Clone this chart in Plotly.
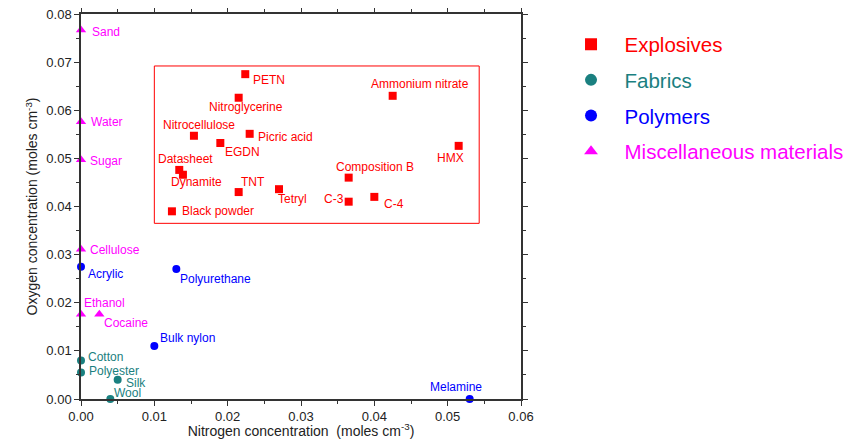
import plotly.graph_objects as go

# ---- data ----
exp_names = ["PETN", "Nitroglycerine", "Nitrocellulose", "Picric acid", "EGDN", "Datasheet",
             "Dynamite", "TNT", "Tetryl", "Black powder", "Ammonium nitrate", "HMX",
             "Composition B", "C-3", "C-4"]
exp_n = [0.0224, 0.0215, 0.0154, 0.0230, 0.0190, 0.0134, 0.0139, 0.0215, 0.0270, 0.0124,
         0.0425, 0.0515, 0.0365, 0.0365, 0.0400]
exp_o = [0.0675, 0.0626, 0.0547, 0.0551, 0.0532, 0.0476, 0.0466, 0.0430, 0.0436, 0.0390,
         0.0630, 0.0526, 0.0460, 0.0410, 0.0420]

fab_names = ["Cotton", "Polyester", "Silk", "Wool"]
fab_n = [0.0, 0.0, 0.005, 0.004]
fab_o = [0.008, 0.0055, 0.004, 0.0]

pol_names = ["Acrylic", "Polyurethane", "Bulk nylon", "Melamine"]
pol_n = [0.0, 0.013, 0.010, 0.053]
pol_o = [0.0275, 0.027, 0.011, 0.0]

misc_names = ["Sand", "Water", "Sugar", "Cellulose", "Ethanol", "Cocaine"]
misc_n = [0.0, 0.0, 0.0, 0.0, 0.0, 0.0025]
misc_o = [0.0767, 0.0576, 0.0497, 0.0311, 0.0176, 0.0176]

# explosive region box (data coords)
box_n = [0.0100, 0.0543]
box_o = [0.0365, 0.0692]

# ---- styles ----
RED, TEAL, BLUE, MAG = "#ff0000", "#1a8080", "#0000ff", "#ff00ff"
FONT = "Liberation Sans, Arial, sans-serif"

# label placement: anchor, dx, dy (screen pixels, dy down)
label_pos = {
    "Sand": ("left", 9, 2), "Water": ("left", 8, 0), "Sugar": ("left", 7, 1),
    "Cellulose": ("left", 7, 1), "Ethanol": ("left", 1, -11), "Cocaine": ("left", 3, 9),
    "Acrylic": ("left", 5, 7), "Polyurethane": ("left", 2, 10), "Bulk nylon": ("left", 4, -8),
    "Melamine": ("center", -14, -12), "Cotton": ("left", 5, -4), "Polyester": ("left", 6, -2),
    "Silk": ("left", 6, 3), "Wool": ("left", 2, -6),
    "PETN": ("left", 6, 6), "Nitroglycerine": ("center", 7, 9), "Nitrocellulose": ("center", 5, -11),
    "Picric acid": ("left", 6, 3), "EGDN": ("left", 3, 9), "Datasheet": ("center", 6, -11),
    "Dynamite": ("center", 14, 7), "TNT": ("left", 0, -10), "Tetryl": ("left", -3, 10),
    "Black powder": ("left", 8, 0), "Ammonium nitrate": ("center", 27, -12),
    "HMX": ("center", -8, 12), "Composition B": ("center", 26, -11),
    "C-3": ("right", -3, -3), "C-4": ("left", 8, 7),
}

fig = go.Figure()

groups = [
    ("Explosives", exp_names, exp_n, exp_o, RED, "square", 8),
    ("Fabrics", fab_names, fab_n, fab_o, TEAL, "circle", 8),
    ("Polymers", pol_names, pol_n, pol_o, BLUE, "circle", 8),
    ("Miscellaneous materials", misc_names, misc_n, misc_o, MAG, "triangle-up", 9),
]

annotations = []
for i, (gname, names, xs, ys, col, sym, size) in enumerate(groups):
    fig.add_trace(go.Scatter(
        x=xs, y=ys, mode="markers", name=f"<span style='color:{col}'>{gname}</span>",
        legendgroup=str(i),
        marker=dict(color=col, symbol=sym, size=size, line=dict(width=0)),
        cliponaxis=False, hovertext=names,
    ))
    for nm, xv, yv in zip(names, xs, ys):
        anc, dx, dy = label_pos[nm]
        annotations.append(dict(
            x=xv, y=yv, xref="x", yref="y", text=nm, showarrow=False,
            xanchor=anc, yanchor="middle", xshift=dx, yshift=-dy,
            font=dict(family=FONT, size=12, color=col),
        ))

fig.add_shape(type="rect", xref="x", yref="y", x0=box_n[0], x1=box_n[1],
              y0=box_o[0], y1=box_o[1], line=dict(color=RED, width=1))

axis_common = dict(
    showgrid=False, zeroline=False, showline=True, linecolor="#333333", linewidth=1.5,
    mirror="ticks", ticks="outside", ticklen=5, tickwidth=1.2, tickcolor="#333333",
    tickfont=dict(family=FONT, size=13, color="#222222"), tickformat=".2f",
    automargin=False, ticklabeloverflow="allow",
)

fig.update_xaxes(range=[0, 0.06], dtick=0.01,
                 minor=dict(dtick=0.005, ticks="outside", ticklen=3, tickcolor="#333333"),
                 title=dict(text="Nitrogen concentration&nbsp;&nbsp;(moles cm<sup>-3</sup>)",
                            font=dict(family=FONT, size=14, color="#222222"), standoff=5),
                 **axis_common)
fig.update_yaxes(range=[0, 0.08], dtick=0.01,
                 minor=dict(dtick=0.005, ticks="outside", ticklen=3, tickcolor="#333333"),
                 title=dict(text="Oxygen concentration (moles cm<sup>-3</sup>)",
                            font=dict(family=FONT, size=14, color="#222222"), standoff=5),
                 **axis_common)

# the page body adds an 8px margin, so the figure is sized/offset to compensate
fig.update_layout(
    width=856, height=431,
    margin=dict(l=73, r=343, t=6, b=40, autoexpand=False),
    plot_bgcolor="white", paper_bgcolor="white",
    annotations=annotations,
    showlegend=True,
    legend=dict(x=1.083, y=0.973, xanchor="left", yanchor="top",
                font=dict(family=FONT, size=20.5), itemsizing="constant",
                itemwidth=57, tracegroupgap=6, bgcolor="rgba(0,0,0,0)"),
)

fig.write_html("out.html")
